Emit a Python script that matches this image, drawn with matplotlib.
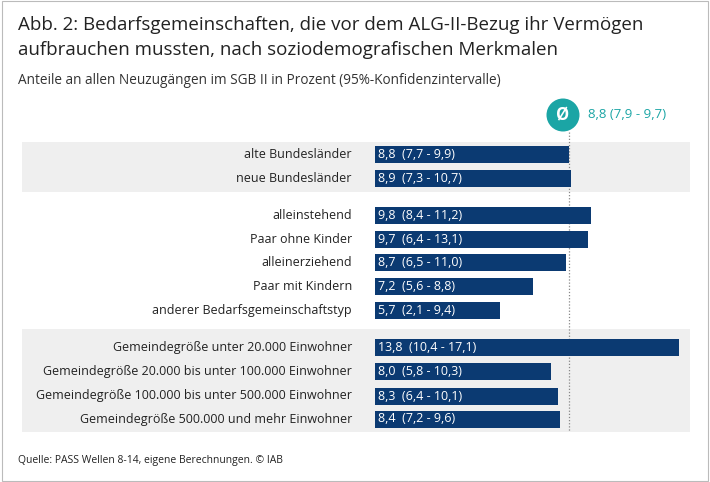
import matplotlib
matplotlib.use("Agg")
import matplotlib.pyplot as plt
from matplotlib.patches import Rectangle
import matplotlib.transforms as mtrans

plt.rcParams['font.family'] = ['Open Sans', 'DejaVu Sans']

categories = ["alte Bundesländer", "neue Bundesländer",
              "alleinstehend", "Paar ohne Kinder", "alleinerziehend", "Paar mit Kindern",
              "anderer Bedarfsgemeinschaftstyp",
              "Gemeindegröße unter 20.000 Einwohner", "Gemeindegröße 20.000 bis unter 100.000 Einwohner",
              "Gemeindegröße 100.000 bis unter 500.000 Einwohner", "Gemeindegröße 500.000 und mehr Einwohner"]
values = [8.8, 8.9, 9.8, 9.7, 8.7, 7.2, 5.7, 13.8, 8.0, 8.3, 8.4]
ci_low = [7.7, 7.3, 8.4, 6.4, 6.5, 5.6, 2.1, 10.4, 5.8, 6.4, 7.2]
ci_high = [9.9, 10.7, 11.2, 13.1, 11.0, 8.8, 9.4, 17.1, 10.3, 10.1, 9.6]
avg, avg_lo, avg_hi = 8.8, 7.9, 9.7

def de(v):
    return f"{v:.1f}".replace(".", ",")

W, H = 710, 482
fig = plt.figure(figsize=(W/100, H/100), dpi=100)
fig.patches.append(Rectangle((0.003, 0.003), 0.994, 0.994, transform=fig.transFigure,
                             fill=False, edgecolor="#bbbbbb", lw=0.8))

ypos = [155, 179, 216, 240, 263, 287, 311, 348, 372, 396, 419]
x0, x1 = 375, 690
scale = 22.0
ax = fig.add_axes([x0/W, 1-440/H, (x1-x0)/W, 310/H])
ax.set_xlim(0, (x1-x0)/scale)
ax.set_ylim(440, 130)
ax.axis("off")

navy = "#0b3a72"
teal = "#1ba5a5"
tr = mtrans.blended_transform_factory(fig.transFigure, ax.transData)
for a, b in [(142, 192), (329, 432)]:
    ax.add_patch(Rectangle((22/W, a), (690-22)/W, b-a, transform=tr, facecolor="#efefef",
                           edgecolor="none", zorder=0, clip_on=False))

ax.barh(ypos, values, height=17, color=navy, zorder=2)
ax.plot([avg, avg], [132, 432], color="#888888", ls=(0, (1, 1.5)), lw=0.9, zorder=1)
for y, c, v, lo, hi in zip(ypos, categories, values, ci_low, ci_high):
    ax.text(-23/scale, y, c, ha="right", va="center", fontsize=9.0, color="#222222")
    ax.text(0.12, y, f"{de(v)}  ({de(lo)} - {de(hi)})", ha="left", va="center",
            fontsize=9.0, color="white", zorder=3)

fig.text(563/W, 1-115/H, "Ø", ha="center", va="center", fontsize=12, color="white",
         fontweight="bold",
         bbox=dict(boxstyle="circle,pad=0.45", fc=teal, ec="none"))
fig.text(588/W, 1-115/H, f"{de(avg)} ({de(avg_lo)} - {de(avg_hi)})", ha="left", va="center",
         fontsize=9.5, color=teal)

fig.text(18/W, 1-25/H, "Abb. 2: Bedarfsgemeinschaften, die vor dem ALG-II-Bezug ihr Vermögen",
         fontsize=13.5, color="#222222", va="center")
fig.text(18/W, 1-50/H, "aufbrauchen mussten, nach soziodemografischen Merkmalen",
         fontsize=13.5, color="#222222", va="center")
fig.text(18/W, 1-80/H, "Anteile an allen Neuzugängen im SGB II in Prozent (95%-Konfidenzintervalle)",
         fontsize=9.8, color="#333333", va="center")
fig.text(18/W, 1-461/H, "Quelle: PASS Wellen 8-14, eigene Berechnungen. © IAB",
         fontsize=7.5, color="#222222", va="center")

fig.savefig("out.png", dpi=100)
